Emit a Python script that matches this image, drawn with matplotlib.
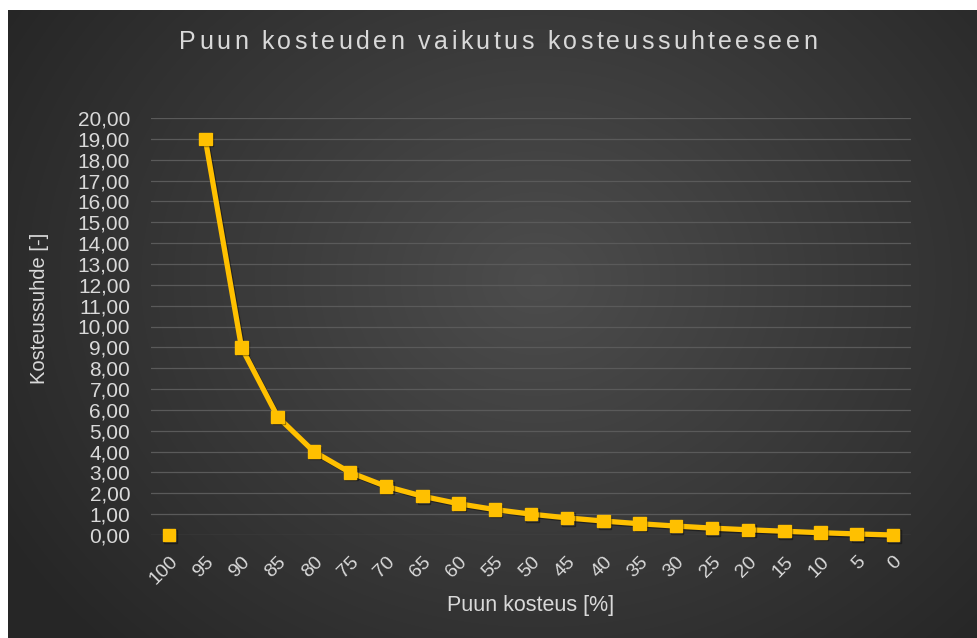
import numpy as np
import matplotlib
matplotlib.use("Agg")
import matplotlib.pyplot as plt
import matplotlib.patheffects as pe
from matplotlib.textpath import TextToPath
from matplotlib.font_manager import FontProperties

plt.rcParams['font.family'] = ['Liberation Sans', 'DejaVu Sans']

# puun kosteus [%] ja kosteussuhde [-]
moisture = ["100", "95", "90", "85", "80", "75", "70", "65", "60", "55", "50",
            "45", "40", "35", "30", "25", "20", "15", "10", "5", "0"]
ratio_100 = 0.0
ratio = [19.00, 9.00, 5.67, 4.00, 3.00, 2.33, 1.86, 1.50, 1.22, 1.00,
         0.82, 0.67, 0.54, 0.43, 0.33, 0.25, 0.18, 0.11, 0.05, 0.00]
y_ticks = list(range(0, 21))

title = "Puun kosteuden vaikutus kosteussuhteeseen"
xlabel = "Puun kosteus [%]"
ylabel = "Kosteussuhde [-]"

txt_col = "#d9d9d9"
gold = "#ffc000"

fig = plt.figure(figsize=(9.77, 6.38), dpi=100, facecolor="white")

# tumma taustagradientti
bg = fig.add_axes([8 / 977, 0, 1 - 8 / 977, 1 - 10 / 638])
bg.set_axis_off()
W, H = 969, 628
xx, yy = np.meshgrid(np.arange(W), np.arange(H))
cx, cy = 530, 270
d = np.sqrt(((xx - cx) / 620.0) ** 2 + ((yy - cy) / 520.0) ** 2)
d = np.clip(d, 0, 1)
shade = 0.30 - 0.15 * d
img = np.dstack([shade, shade, shade])
bg.imshow(img, aspect="auto", extent=[0, 1, 0, 1], origin="upper")
bg.set_xlim(0, 1)
bg.set_ylim(0, 1)

ax = fig.add_axes([151 / 977, 1 - 535 / 638, 760 / 977, 417 / 638])
ax.patch.set_alpha(0)
x = np.arange(len(moisture))

shadow = [pe.SimpleLineShadow(offset=(1, -1), alpha=0.4), pe.Normal()]
ax.plot(x[1:], ratio, color=gold, lw=3.8, marker="s", ms=9, mec=gold, mfc=gold,
        solid_joinstyle="round", zorder=3, clip_on=False, path_effects=shadow)
ax.plot([x[0]], [ratio_100], ls="none", marker="s", ms=9, color=gold, zorder=3,
        clip_on=False, path_effects=shadow)

ax.set_xlim(-0.5, len(moisture) - 0.5)
ax.set_ylim(0, 20)
ax.set_yticks(y_ticks)
ax.set_yticklabels([f"{v:.2f}".replace(".", ",") for v in y_ticks],
                   color=txt_col, fontsize=15)
ax.set_xticks(x)
ax.set_xticklabels(moisture, rotation=45, ha="right", va="top",
                   rotation_mode="anchor", color=txt_col, fontsize=14)
ax.tick_params(axis="both", length=0)
ax.tick_params(axis="y", pad=15)
ax.tick_params(axis="x", pad=13)
for s in ax.spines.values():
    s.set_visible(False)
ax.grid(axis="y", color="#5a5a5a", lw=0.9)
ax.set_axisbelow(True)

fig.text(531 / 977, 1 - 606 / 638, xlabel, ha="center", va="center",
         color=txt_col, fontsize=15.5)
fig.text(40 / 977, 1 - 308 / 638, ylabel, ha="center", va="center",
         rotation=90, color=txt_col, fontsize=14.5)

# otsikko väljällä kirjainvälillä
prop = FontProperties(family="Liberation Sans", size=18)
ttp = TextToPath()
spacing = 3.4
widths = [ttp.get_text_width_height_descent(ch, prop, ismath=False)[0] * 100 / 72
          for ch in title]
total = sum(widths) + spacing * (len(title) - 1)
xpos = 498 - total / 2
for ch, w in zip(title, widths):
    fig.text(xpos / 977, 1 - 42 / 638, ch, ha="left", va="center",
             color=txt_col, fontproperties=prop)
    xpos += w + spacing

fig.savefig("out.png", dpi=100, facecolor="white")
